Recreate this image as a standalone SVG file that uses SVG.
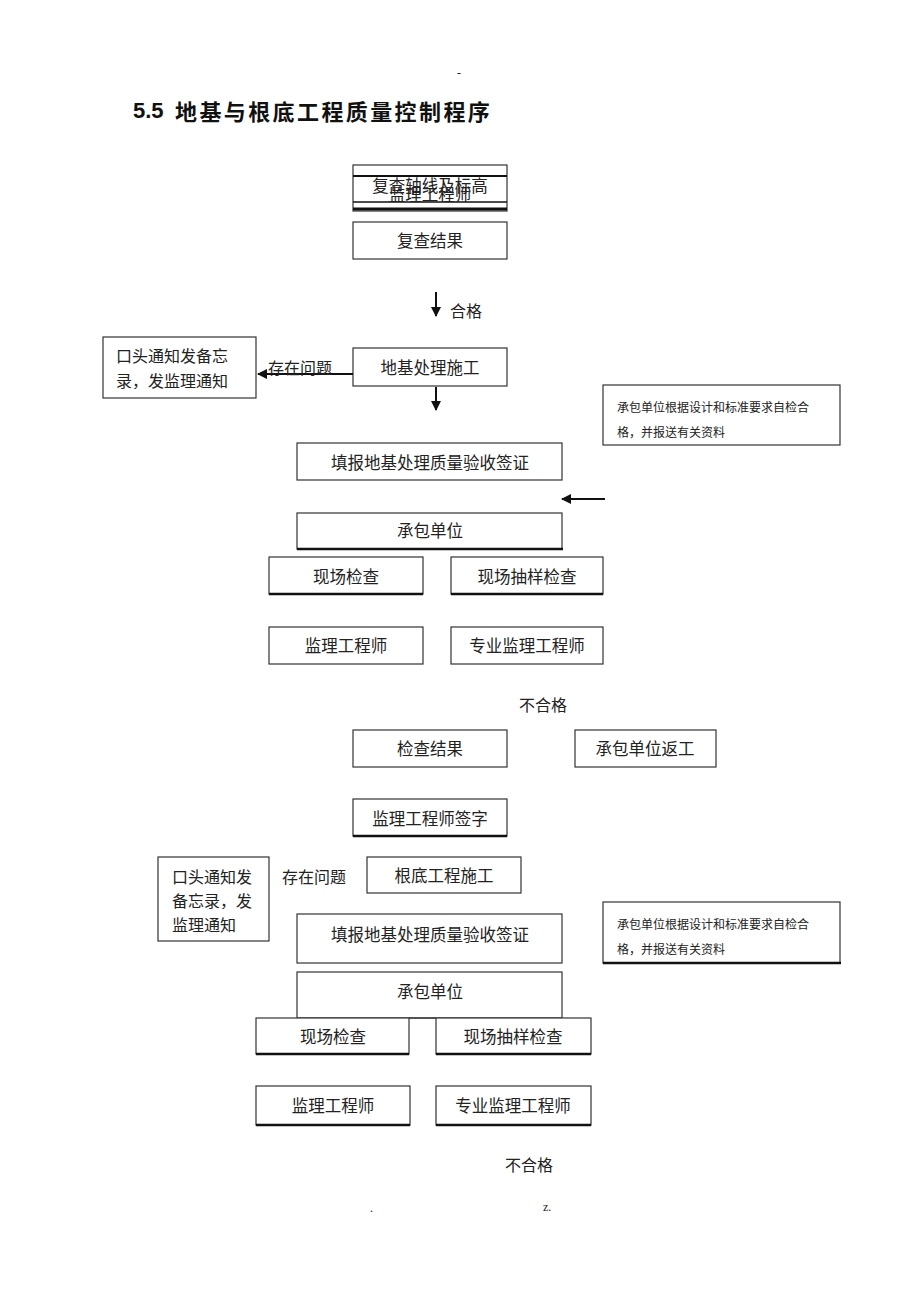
<svg xmlns="http://www.w3.org/2000/svg" width="920" height="1302" viewBox="0 0 920 1302">
<style>
.b{fill:#fff;stroke:#333;stroke-width:1.2}
.t{font-family:"Liberation Serif","Noto Sans CJK SC",serif;font-size:16.5px;fill:#222;text-anchor:middle;dominant-baseline:central}
.tl{font-family:"Liberation Serif","Noto Sans CJK SC",serif;font-size:16px;fill:#222;dominant-baseline:central}
.s{font-family:"Liberation Serif","Noto Sans CJK SC",serif;font-size:12px;fill:#222;dominant-baseline:central}
.th{stroke:#111;stroke-width:2.5}
.c{stroke:#111;stroke-width:2;fill:none}
</style>
<defs>
<marker id="ah" viewBox="0 0 10 10" refX="9" refY="5" markerWidth="5" markerHeight="5" orient="auto"><path d="M0,0 L10,5 L0,10 z" fill="#111"/></marker>
<clipPath id="cl"><rect x="353" y="176" width="154" height="26"/></clipPath>
</defs>
<rect width="920" height="1302" fill="#fff"/>
<text x="459" y="73" class="s" text-anchor="middle" font-size="10">-</text>
<text x="133" y="110" font-family="Liberation Sans,'Noto Sans CJK SC',sans-serif" font-size="22" font-weight="bold" fill="#111" dominant-baseline="central">5.5</text>
<text x="175" y="110" font-family="'Noto Sans CJK SC',sans-serif" font-size="22" font-weight="bold" fill="#111" letter-spacing="2.4" dominant-baseline="central">地基与根底工程质量控制程序</text>

<g id="n1">
<rect class="b" x="353" y="165" width="154" height="46"/>
<line x1="353" y1="176" x2="507" y2="176" stroke="#111" stroke-width="2"/>
<line x1="353" y1="202" x2="507" y2="202" stroke="#111" stroke-width="1.5"/>
<line x1="353" y1="209" x2="507" y2="209" stroke="#111" stroke-width="3"/>
<text class="t" x="430" y="186">复查轴线及标高</text>
<text class="t" x="430" y="195" clip-path="url(#cl)">监理工程师</text>
</g>
<g id="n2"><rect class="b" x="353" y="222" width="154" height="37"/><text class="t" x="430" y="241">复查结果</text></g>
<g id="n3"><rect class="b" x="103" y="337" width="153" height="61"/><text class="tl" x="116" y="356">口头通知发备忘</text><text class="tl" x="116" y="381">录，发监理通知</text></g>
<g id="n4"><rect class="b" x="353" y="348" width="154" height="38"/><text class="t" x="430" y="368">地基处理施工</text></g>
<g id="n5"><rect class="b" x="603" y="385" width="237" height="60"/><text class="s" x="617" y="408">承包单位根据设计和标准要求自检合</text><text class="s" x="617" y="433">格，并报送有关资料</text></g>
<g id="n6"><rect class="b" x="297" y="443" width="265" height="37"/><text class="t" x="430" y="463">填报地基处理质量验收签证</text></g>
<g id="n7"><rect class="b" x="297" y="513" width="265" height="36"/><line class="th" x1="297" y1="549" x2="563" y2="549"/><text class="t" x="430" y="531">承包单位</text></g>
<g id="n8"><rect class="b" x="269" y="557" width="154" height="37"/><line class="th" x1="269" y1="594" x2="423" y2="594" stroke-width="2"/><text class="t" x="346" y="577">现场检查</text></g>
<g id="n9"><rect class="b" x="451" y="557" width="152" height="37"/><line class="th" x1="451" y1="594" x2="603" y2="594" stroke-width="2"/><text class="t" x="527" y="577">现场抽样检查</text></g>
<g id="n10"><rect class="b" x="269" y="627" width="154" height="37"/><text class="t" x="346" y="646">监理工程师</text></g>
<g id="n11"><rect class="b" x="451" y="627" width="152" height="37"/><text class="t" x="527" y="646">专业监理工程师</text></g>
<g id="n12"><rect class="b" x="353" y="730" width="154" height="37"/><text class="t" x="430" y="749">检查结果</text></g>
<g id="n13"><rect class="b" x="575" y="730" width="141" height="37"/><text class="t" x="645" y="749">承包单位返工</text></g>
<g id="n14"><rect class="b" x="353" y="799" width="154" height="37"/><line class="th" x1="353" y1="836" x2="507" y2="836"/><text class="t" x="430" y="819">监理工程师签字</text></g>
<g id="n15"><rect class="b" x="158" y="857" width="111" height="84"/><text class="tl" x="172" y="877">口头通知发</text><text class="tl" x="172" y="901">备忘录，发</text><text class="tl" x="172" y="925">监理通知</text></g>
<g id="n16"><rect class="b" x="367" y="857" width="154" height="36"/><text class="t" x="444" y="876">根底工程施工</text></g>
<g id="n17"><rect class="b" x="297" y="914" width="265" height="49"/><text class="t" x="430" y="935">填报地基处理质量验收签证</text></g>
<g id="n18"><rect class="b" x="603" y="902" width="237" height="61"/><line class="th" x1="603" y1="963" x2="841" y2="963" stroke-width="2"/><text class="s" x="617" y="925">承包单位根据设计和标准要求自检合</text><text class="s" x="617" y="950">格，并报送有关资料</text></g>
<g id="n19"><rect class="b" x="297" y="972" width="265" height="46"/><text class="t" x="430" y="992">承包单位</text></g>
<g id="n20"><rect class="b" x="256" y="1018" width="153" height="36"/><line class="th" x1="256" y1="1054" x2="409" y2="1054" stroke-width="2"/><text class="t" x="333" y="1037">现场检查</text></g>
<g id="n21"><rect class="b" x="436" y="1018" width="155" height="36"/><line class="th" x1="436" y1="1054" x2="591" y2="1054" stroke-width="2"/><text class="t" x="513" y="1037">现场抽样检查</text></g>
<line x1="409" y1="1018" x2="436" y2="1018" stroke="#333" stroke-width="1.2"/>
<g id="n22"><rect class="b" x="256" y="1086" width="154" height="39"/><line class="th" x1="256" y1="1125" x2="410" y2="1125"/><text class="t" x="333" y="1106">监理工程师</text></g>
<g id="n23"><rect class="b" x="436" y="1086" width="155" height="39"/><line class="th" x1="436" y1="1125" x2="591" y2="1125"/><text class="t" x="513" y="1106">专业监理工程师</text></g>

<g id="connectors">
<line class="c" x1="436" y1="292" x2="436" y2="316" marker-end="url(#ah)"/>
<line class="c" x1="353" y1="374" x2="258" y2="374" marker-end="url(#ah)"/>
<line class="c" x1="436" y1="387" x2="436" y2="410" marker-end="url(#ah)"/>
<line class="c" x1="605" y1="499" x2="562" y2="499" marker-end="url(#ah)"/>
</g>

<g id="labels">
<text class="tl" x="450" y="311">合格</text>
<text class="tl" x="268" y="368">存在问题</text>
<text class="tl" x="519" y="705" font-size="15">不合格</text>
<text class="tl" x="282" y="877">存在问题</text>
<text class="tl" x="505" y="1165" font-size="15">不合格</text>
<text class="s" x="370" y="1208" font-size="10">.</text>
<text class="s" x="543" y="1207" font-size="11">z.</text>
</g>
</svg>
